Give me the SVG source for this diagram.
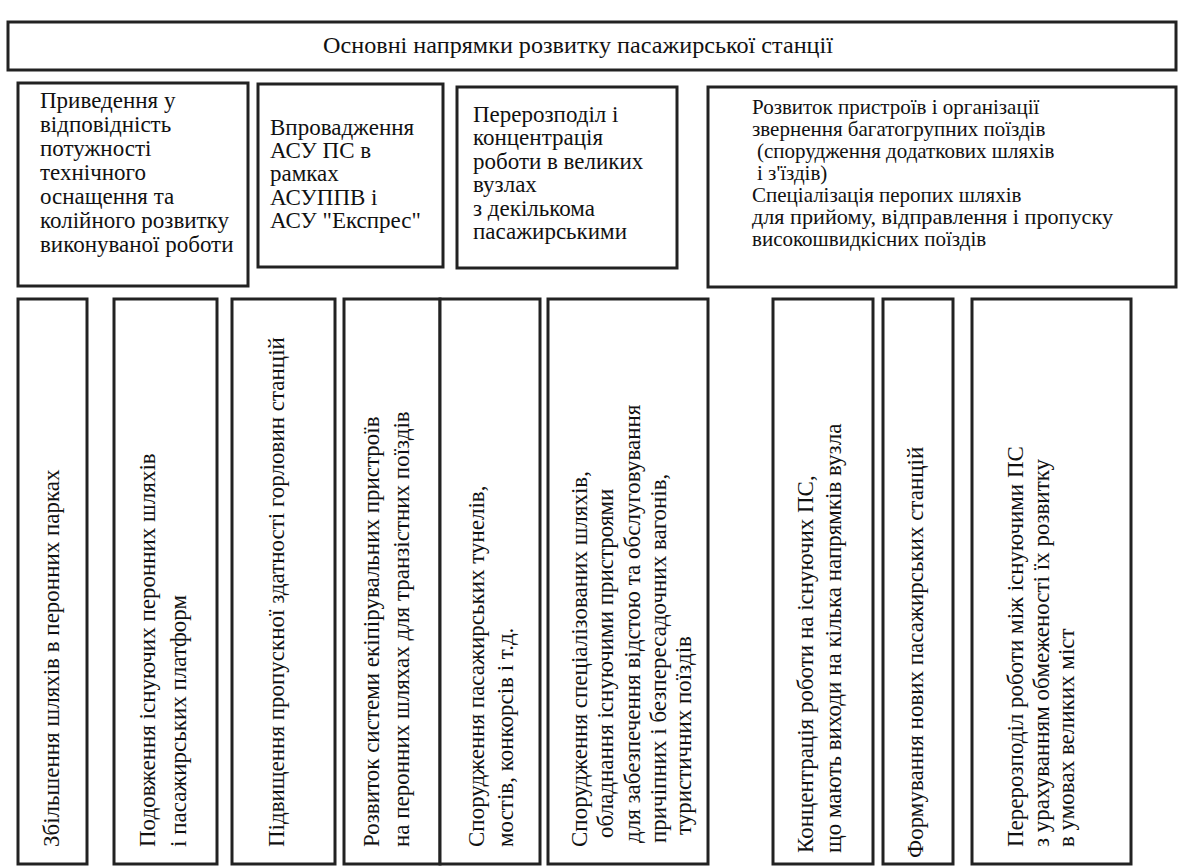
<svg xmlns="http://www.w3.org/2000/svg" width="1183" height="866" viewBox="0 0 1183 866" font-family="'Liberation Serif', 'Times New Roman', Times, Tinos, 'DejaVu Serif', 'Noto Serif', FreeSerif, serif">
<style>
.box{fill:#fff;stroke:#222;stroke-width:3}
text{font-family:"Liberation Serif","Times New Roman",Times,Tinos,"DejaVu Serif","Noto Serif",FreeSerif,serif;fill:#111}
.t{font-size:23px}
.t4{font-size:21px}
.v{font-size:23px}
</style>
<rect width="1183" height="866" fill="#fff"/>
<g id="title">
<rect class="box" x="8" y="22" width="1168" height="48"/>
<text class="t" x="323" y="53" textLength="510" lengthAdjust="spacingAndGlyphs">Основні напрямки розвитку пасажирської станції</text>
</g>
<g id="n1">
<rect class="box" x="18" y="83" width="230" height="203"/>
<text class="t" x="40" y="108">Приведення у</text>
<text class="t" x="40" y="132">відповідність</text>
<text class="t" x="40" y="156">потужності</text>
<text class="t" x="40" y="180">технічного</text>
<text class="t" x="40" y="204">оснащення та</text>
<text class="t" x="40" y="228">колійного розвитку</text>
<text class="t" x="40" y="252">виконуваної роботи</text>
</g>
<g id="n2">
<rect class="box" x="258" y="84" width="185" height="183"/>
<text class="t" x="270" y="135">Впровадження</text>
<text class="t" x="270" y="158">АСУ ПС в</text>
<text class="t" x="270" y="181">рамках</text>
<text class="t" x="270" y="205">АСУППВ і</text>
<text class="t" x="270" y="228">АСУ "Експрес"</text>
</g>
<g id="n3">
<rect class="box" x="457" y="87" width="220" height="181"/>
<text class="t" x="473" y="122">Перерозподіл і</text>
<text class="t" x="473" y="145">концентрація</text>
<text class="t" x="473" y="169">роботи в великих</text>
<text class="t" x="473" y="192">вузлах</text>
<text class="t" x="473" y="216">з декількома</text>
<text class="t" x="473" y="239">пасажирськими</text>
</g>
<g id="n4">
<rect class="box" x="708" y="87" width="468" height="200"/>
<text class="t4" x="752" y="114">Розвиток пристроїв і організації</text>
<text class="t4" x="752" y="136">звернення багатогрупних поїздів</text>
<text class="t4" x="757" y="158">(спорудження додаткових шляхів</text>
<text class="t4" x="757" y="180">і з'їздів)</text>
<text class="t4" x="752" y="202">Спеціалізація перопих шляхів</text>
<text class="t4" x="752" y="224" textLength="361" lengthAdjust="spacingAndGlyphs">для прийому, відправлення і пропуску</text>
<text class="t4" x="752" y="246">високошвидкісних поїздів</text>
</g>
<g id="v1">
<rect class="box" x="18" y="299" width="69" height="565"/>
<text class="v" transform="translate(59,847) rotate(-90)">Збільшення шляхів в перонних парках</text>
</g>
<g id="v2">
<rect class="box" x="114" y="299" width="103" height="565"/>
<text class="v" transform="translate(155,847) rotate(-90)">Подовження існуючих перонних шляхів</text>
<text class="v" transform="translate(186,847) rotate(-90)">і пасажирських платформ</text>
</g>
<g id="v3">
<rect class="box" x="232" y="299" width="103" height="565"/>
<text class="v" transform="translate(284,847) rotate(-90)">Підвищення пропускної здатності горловин станцій</text>
</g>
<g id="v4">
<rect class="box" x="344" y="299" width="96" height="565"/>
<text class="v" transform="translate(379,847) rotate(-90)">Розвиток системи екіпірувальних пристроїв</text>
<text class="v" transform="translate(409,847) rotate(-90)">на перонних шляхах для транзістних поїздів</text>
</g>
<g id="v5">
<rect class="box" x="440" y="299" width="100" height="565"/>
<text class="v" transform="translate(484,847) rotate(-90)">Спорудження пасажирських тунелів,</text>
<text class="v" transform="translate(513,847) rotate(-90)">мостів, конкорсів і т.д.</text>
</g>
<g id="v6">
<rect class="box" x="548" y="299" width="160" height="565"/>
<text class="v" transform="translate(587,847) rotate(-90)">Спорудження спеціалізованих шляхів,</text>
<text class="v" transform="translate(613,838) rotate(-90)">обладнання існуючими пристроями</text>
<text class="v" transform="translate(640,843) rotate(-90)">для забезпечення відстою та обслуговування</text>
<text class="v" transform="translate(666,843) rotate(-90)">причіпних і безпересадочних вагонів,</text>
<text class="v" transform="translate(691,835) rotate(-90)">туристичних поїздів</text>
</g>
<g id="v7">
<rect class="box" x="773" y="299" width="100" height="565"/>
<text class="v" transform="translate(813,853) rotate(-90)">Концентрація роботи на існуючих ПС,</text>
<text class="v" transform="translate(841,853) rotate(-90)">що мають виходи на кілька напрямків вузла</text>
</g>
<g id="v8">
<rect class="box" x="883" y="299" width="70" height="565"/>
<text class="v" transform="translate(923,858) rotate(-90)">Формування нових пасажирських станцій</text>
</g>
<g id="v9">
<rect class="box" x="972" y="299" width="159" height="565"/>
<text class="v" transform="translate(1023,847) rotate(-90)">Перерозподіл роботи між існуючими ПС</text>
<text class="v" transform="translate(1049,847) rotate(-90)">з урахуванням обмеженості їх розвитку</text>
<text class="v" transform="translate(1074,847) rotate(-90)">в умовах великих міст</text>
</g>
</svg>
